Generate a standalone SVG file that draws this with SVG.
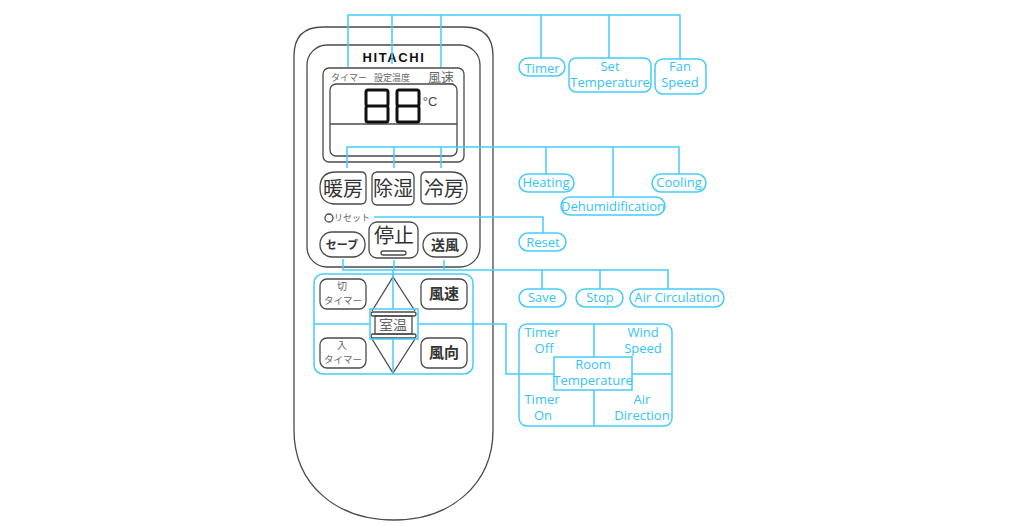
<svg xmlns="http://www.w3.org/2000/svg" width="1024" height="532" viewBox="0 0 1024 532">
<style>
.b{fill:none;stroke:#45cbfa;stroke-width:1.5}
.k{fill:#fff;stroke:#4a4a4a;stroke-width:1.3}
.kn{fill:none;stroke:#4a4a4a;stroke-width:1.3}
.l{font-family:"Open Sans","Noto Sans",sans-serif;font-size:13px;fill:#35c4f5;text-anchor:middle}
.j{font-family:"Noto Sans CJK JP",sans-serif;fill:#333;text-anchor:middle}
.g{fill:#666}
.d{fill:none;stroke:#111;stroke-width:3;stroke-linejoin:round}
</style>
<rect width="1024" height="532" fill="#fff"/>
<g id="remote">
<path class="k" d="M294 56Q294 27 323 27H464Q493 27 493 56V430C493 485 450 520 394 520C337 520 294 485 294 430Z"/>
<rect class="kn" x="307" y="45" width="173" height="222" rx="20"/>
<text x="394" y="62" font-family="'Liberation Sans',sans-serif" font-weight="700" font-size="13" letter-spacing="1.6" text-anchor="middle" fill="#111">HITACHI</text>
</g>
<g id="display">
<rect class="kn" x="323" y="68" width="141" height="94" rx="6"/>
<rect class="kn" x="330" y="84" width="127" height="72" rx="6"/>
<path class="kn" d="M330 124H457"/>
<text class="j g" x="349" y="81" font-size="9">タイマー</text>
<text class="j g" x="392" y="81" font-size="9">設定温度</text>
<text class="j g" x="441" y="82" font-size="13">風速</text>
<path class="d" d="M368 90H386Q388 90 388 92V104Q388 106 386 106H368Q366 106 366 104V92Q366 90 368 90ZM368 106H386Q388 106 388 108V120Q388 122 386 122H368Q366 122 366 120V108Q366 106 368 106Z"/>
<path class="d" d="M399 90H417Q419 90 419 92V104Q419 106 417 106H399Q397 106 397 104V92Q397 90 399 90ZM399 106H417Q419 106 419 108V120Q419 122 417 122H399Q397 122 397 120V108Q397 106 399 106Z"/>
<text x="430" y="106" font-family="'Liberation Sans',sans-serif" font-size="13" text-anchor="middle" fill="#444">°C</text>
</g>
<g id="btn-heating"><path class="k" d="M336 172H361Q366 172 366 177V199Q366 204 361 204H336Q320 204 320 188Q320 172 336 172Z"/><text class="j" x="343" y="196" font-size="20">暖房</text></g>
<g id="btn-dehum"><rect class="k" x="372" y="172" width="42" height="33" rx="5"/><text class="j" x="393" y="196" font-size="20">除湿</text></g>
<g id="btn-cooling"><path class="k" d="M426 172H451Q467 172 467 188Q467 204 451 204H426Q421 204 421 199V177Q421 172 426 172Z"/><text class="j" x="444" y="196" font-size="20">冷房</text></g>
<g id="reset"><circle class="kn" cx="329" cy="218" r="4"/><text class="j g" x="352" y="221" font-size="9">リセット</text></g>
<g id="btn-save"><rect class="k" x="320" y="232" width="45" height="25" rx="12"/><text class="j" x="342" y="249" font-size="11" font-weight="700">セーブ</text></g>
<g id="btn-stop"><rect class="k" x="369" y="222" width="49" height="36" rx="8"/><text class="j" x="394" y="243" font-size="20">停止</text><rect class="k" x="381" y="251" width="25" height="4" rx="2"/></g>
<g id="btn-air"><rect class="k" x="423" y="233" width="44" height="24" rx="12"/><text class="j" x="445" y="250" font-size="14" font-weight="700">送風</text></g>
<g id="btn-off"><rect class="k" x="320" y="279" width="46" height="30" rx="7"/><text class="j g" x="342" y="290" font-size="10">切</text><text class="j g" x="343" y="304" font-size="9.5">タイマー</text></g>
<g id="btn-speed"><rect class="k" x="421" y="279" width="46" height="30" rx="7"/><text class="j" x="444" y="299" font-size="15" font-weight="700">風速</text></g>
<g id="btn-on"><rect class="k" x="320" y="338" width="46" height="30" rx="7"/><text class="j g" x="342" y="349" font-size="10">入</text><text class="j g" x="343" y="363" font-size="9.5">タイマー</text></g>
<g id="btn-dir"><rect class="k" x="421" y="338" width="46" height="30" rx="7"/><text class="j" x="444" y="358" font-size="15" font-weight="700">風向</text></g>
<g id="btn-room">
<path class="kn" d="M372 311L393 277L415 311"/>
<path class="kn" d="M372 339L393 373L415 339"/>
<rect class="k" x="371" y="312" width="45" height="4" rx="2"/>
<rect class="k" x="371" y="334" width="45" height="4" rx="2"/>
<rect class="kn" x="375" y="316" width="37" height="18"/>
<text class="j g" x="393" y="330" font-size="14">室温</text>
</g>
<g id="connectors">
<path class="b" d="M348 67V15H680V59M392 15V64M441 15V67M541 15V58M609 15V58"/>
<path class="b" d="M347 168V147H679V174M394 147V168M441 147V168M546 147V174M613 147V197"/>
<path class="b" d="M374 217H543V233"/>
<path class="b" d="M343 259V270H668V289M394 260V270M444 260V270M542 270V289M600 270V289"/>
<path class="b" d="M393 270V277"/>
<rect class="b" x="314" y="274" width="159" height="100" rx="9"/>
<rect class="b" x="370" y="309" width="48" height="30"/>
<path class="b" d="M314 324H370M393 274V309M393 339V374"/>
<path class="b" d="M418 324H506V374H554"/>
<path class="b" d="M632 374H672M594 324V357M594 390V426"/>
</g>
<g id="lbl-timer"><rect class="b" x="519" y="58" width="46" height="18" rx="9"/><text class="l" x="542" y="73">Timer</text></g>
<g id="lbl-settemp"><rect class="b" x="569" y="58" width="82" height="34" rx="7"/><text class="l" x="610" y="71">Set</text><text class="l" x="610" y="87">Temperature</text></g>
<g id="lbl-fan"><rect class="b" x="655" y="59" width="51" height="35" rx="8"/><text class="l" x="680" y="71">Fan</text><text class="l" x="680" y="87">Speed</text></g>
<g id="lbl-heating"><rect class="b" x="519" y="174" width="55" height="18" rx="9"/><text class="l" x="546" y="187">Heating</text></g>
<g id="lbl-dehum"><rect class="b" x="561" y="197" width="104" height="18" rx="9"/><text class="l" x="613" y="211">Dehumidification</text></g>
<g id="lbl-cooling"><rect class="b" x="652" y="174" width="54" height="18" rx="9"/><text class="l" x="679" y="187">Cooling</text></g>
<g id="lbl-reset"><rect class="b" x="519" y="233" width="47" height="18" rx="9"/><text class="l" x="543" y="247">Reset</text></g>
<g id="lbl-save"><rect class="b" x="519" y="289" width="47" height="18" rx="9"/><text class="l" x="542" y="302">Save</text></g>
<g id="lbl-stop"><rect class="b" x="576" y="289" width="47" height="18" rx="9"/><text class="l" x="600" y="302">Stop</text></g>
<g id="lbl-air"><rect class="b" x="630" y="289" width="94" height="18" rx="9"/><text class="l" x="677" y="302">Air Circulation</text></g>
<g id="lbl-panel">
<rect class="b" x="519" y="324" width="153" height="102" rx="8"/>
<rect class="b" x="554" y="357" width="78" height="33"/>
<text class="l" x="542" y="337">Timer</text><text class="l" x="544" y="353">Off</text>
<text class="l" x="643" y="337">Wind</text><text class="l" x="643" y="353">Speed</text>
<text class="l" x="593" y="369">Room</text><text class="l" x="593" y="385">Temperature</text>
<text class="l" x="542" y="404">Timer</text><text class="l" x="543" y="420">On</text>
<text class="l" x="642" y="404">Air</text><text class="l" x="642" y="420">Direction</text>
</g>
</svg>
